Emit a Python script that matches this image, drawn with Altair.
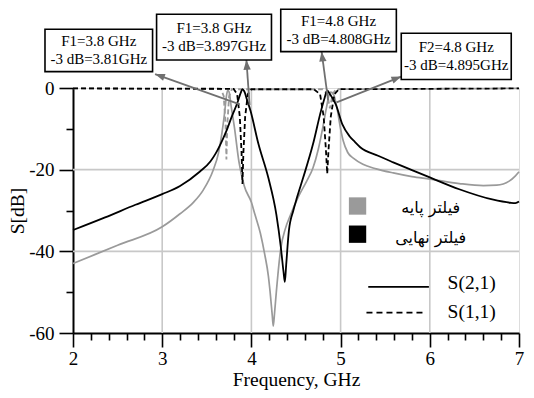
import math
import altair as alt
import pandas as pd

# ---------------- data ----------------
# Base filter, S(2,1)  (gray solid)
base_s21_f = [2.0, 2.5, 3.0, 3.2, 3.35, 3.46, 3.57, 3.63, 3.67, 3.70, 3.72, 3.735, 3.75, 3.77,
              3.81, 3.86, 3.92, 4.0, 4.04, 4.1, 4.15, 4.19, 4.21, 4.235, 4.245, 4.26, 4.28,
              4.33, 4.38, 4.44, 4.53, 4.62, 4.69, 4.75, 4.80, 4.84, 4.87, 4.89, 4.92, 4.96,
              5.0, 5.03, 5.08, 5.15, 5.25, 5.4, 5.59, 5.8, 6.0, 6.33, 6.6, 6.75, 6.89, 6.96, 7.0]
base_s21_db = [-43, -38.5, -34, -30.8, -28, -25, -20.2, -16, -11, -6, -2, -0.5, -1, -4,
               -9.7, -18, -24, -28, -31, -35.5, -40.8, -46, -50, -56, -58.3, -55, -49.8,
               -39.2, -34.5, -31, -26.5, -22.8, -19.6, -15, -9.7, -5, -1.8, -1, -1.5, -5,
               -10, -13, -15.8, -17.3, -18.7, -19.8, -20.8, -21.7, -22.3, -23.4, -23.9, -23.8, -22.8, -21.5, -20.5]

# Final filter, S(2,1)  (black solid)
final_s21_f = [2.0, 2.36, 2.7, 3.0, 3.2, 3.42, 3.54, 3.6, 3.68, 3.72, 3.78, 3.845, 3.88, 3.9,
               3.92, 3.95, 3.99, 4.08, 4.19, 4.28, 4.33, 4.36, 4.375, 4.39, 4.42, 4.47, 4.51,
               4.58, 4.69, 4.78, 4.82, 4.85, 4.88, 4.946, 5.02, 5.1, 5.16, 5.22, 5.42, 5.59,
               5.8, 6.0, 6.33, 6.7, 6.9, 6.96, 7.0]
final_s21_db = [-34.8, -31.7, -28.6, -26, -24, -20.5, -18, -16, -12.5, -10.5, -7, -3.5, -1.2, -0.3,
                -0.8, -2.8, -5.6, -13.8, -22, -31, -39, -45, -47.5, -43.3, -35, -30, -26.9,
                -22, -13.8, -5.6, -2.5, -0.6, -1.5, -4, -8.9, -11.8, -13.2, -14.5, -16.6, -18.2,
                -20.1, -21.9, -24.8, -27.3, -28.1, -28.2, -27.8]

# Base filter, S(1,1)  (gray dashed)
base_s11_f = [2.0, 3.66, 3.69, 3.71, 3.72, 3.73, 3.75, 3.78, 4.8, 4.85, 4.88, 4.91, 4.95, 7.0]
base_s11_db = [-0.1, -0.3, -2, -9, -17.5, -9, -2, -0.3, -0.3, -1.5, -5, -1.5, -0.3, -0.1]

# Final filter, S(1,1)  (black dashed)
final_s11_f = [2.0, 3.8, 3.84, 3.87, 3.89, 3.90, 3.91, 3.93, 3.96, 4.0, 4.7, 4.77, 4.81,
               4.835, 4.85, 4.865, 4.89, 4.93, 4.98, 7.0]
final_s11_db = [-0.1, -0.2, -1.5, -7, -16, -23.5, -16, -7, -1.5, -0.3, -0.3, -1.5, -7,
                -15, -21, -15, -7, -1.5, -0.3, -0.1]

# axis ticks
x_tick_values = [2.0, 2.2, 2.4, 2.6, 2.8, 3.0, 3.2, 3.4, 3.6, 3.8, 4.0, 4.2, 4.4, 4.6, 4.8,
                 5.0, 5.2, 5.4, 5.6, 5.8, 6.0, 6.2, 6.4, 6.6, 6.8, 7.0]
y_tick_values = [0, -10, -20, -30, -40, -50, -60]
grid_x = [3, 4, 5, 6]
grid_y = [-20, -40]

# annotation boxes
box_f1 = [1.686, 2.937, 4.329, 5.68]
box_f2 = [2.892, 4.225, 5.625, 6.913]
box_db1 = [4.0, 6.86, 8.9, 2.1]
box_db2 = [14.4, 18.05, 19.3, 13.4]
box_line1 = ["F1=3.8 GHz", "F1=3.8 GHz", "F1=4.8 GHz", "F2=4.8 GHz"]
box_line2 = ["-3 dB=3.81GHz", "-3 dB=3.897GHz", "-3 dB=4.808GHz", "-3 dB=4.895GHz"]
box_line1_db = [11.4, 14.7, 16.3, 10.0]
box_line2_db = [7.0, 10.3, 11.9, 5.6]

# arrows (tip at the box, tail on the curve)
arrow_tip_f = [2.92, 3.944, 4.787, 5.68]
arrow_tip_db = [3.4, 6.86, 8.9, 2.8]
arrow_end_f = [3.87, 3.98, 4.86, 4.955]
arrow_end_db = [-4.0, -4.2, -3.0, -3.5]

# legend
leg_sq_f = [5.19, 5.19]
leg_sq_db = [-28.9, -35.8]
leg_sq_color = ["#9a9a9a", "#000000"]
leg_lab_f = [6.01, 6.01]
leg_lab_db = [-29.4, -36.8]
leg_lab_text = ["فیلتر پایه", "فیلتر نهایی"]
leg_line_f1 = [5.31, 5.29]
leg_line_f2 = [5.99, 5.96]
leg_line_db = [-48.7, -55.0]
leg_s_f = [6.47, 6.47]
leg_s_db = [-47.8, -54.8]
leg_s_text = ["S(2,1)", "S(1,1)"]

# ---------------- chart ----------------
W, H = 446, 245
PX_PER_F = W / 5.0
PX_PER_DB = H / 60.0
SERIF = "Liberation Serif"
GRAY = "#9a9a9a"
ARROW = "#707070"

xs = alt.Scale(domain=[2, 7], nice=False, zero=False)
ys = alt.Scale(domain=[-60, 0], nice=False, zero=False)

x_axis = alt.Axis(
    values=x_tick_values, grid=False, labelExpr="datum.value % 1 == 0 ? '' + datum.value : ''",
    tickSize={"condition": {"test": "datum.value % 1 == 0", "value": 14}, "value": 7},
    tickColor="black", tickWidth=1.6, domainColor="black", domainWidth=2,
    labelFont=SERIF, labelFontSize=19, labelColor="black", labelPadding=2,
    labelFlush=False, labelOverlap=False,
    title="Frequency, GHz", titleFont=SERIF, titleFontSize=19.5, titleFontWeight="normal",
    titleColor="black", titleY=52.5, titleBaseline="alphabetic",
)
y_axis = alt.Axis(
    values=y_tick_values, grid=False, labelExpr="datum.value % 20 == 0 ? '' + datum.value : ''",
    tickSize={"condition": {"test": "datum.value % 20 == 0", "value": 14}, "value": 7},
    tickColor="black", tickWidth=1.6, domainColor="black", domainWidth=2,
    labelFont=SERIF, labelFontSize=19, labelColor="black", labelPadding=5,
    labelFlush=False, labelOverlap=False,
    title="S[dB]", titleFont=SERIF, titleFontSize=19.5, titleFontWeight="normal",
    titleColor="black", titleX=-56, titleY=H / 2, titleAngle=270, titleAlign="center",
    titleBaseline="middle",
)


def XE(field):
    return alt.X(field, type="quantitative", scale=xs, axis=x_axis)


def YE(field):
    return alt.Y(field, type="quantitative", scale=ys, axis=y_axis)


# grid
gx = pd.DataFrame({"f": grid_x, "lo": [-60] * len(grid_x), "hi": [0] * len(grid_x)})
gy = pd.DataFrame({"db": grid_y, "lo": [2] * len(grid_y), "hi": [7] * len(grid_y)})
grid_v = alt.Chart(gx).mark_rule(color="#c8c8c8", strokeWidth=1.6).encode(
    x=XE("f"), y=YE("lo"), y2="hi:Q",
)
grid_h = alt.Chart(gy).mark_rule(color="#c8c8c8", strokeWidth=1.6).encode(
    y=YE("db"), x=XE("lo"), x2="hi:Q",
)


def curve(fs, dbs, color, width, dash=None, interp="monotone"):
    df = pd.DataFrame({"f": fs, "db": dbs, "o": list(range(len(fs)))})
    kw = dict(color=color, strokeWidth=width, interpolate=interp)
    if dash is not None:
        kw["strokeDash"] = dash
    return alt.Chart(df).mark_line(**kw).encode(x=XE("f"), y=YE("db"), order="o:Q")


c_base21 = curve(base_s21_f, base_s21_db, GRAY, 1.7)
c_base11 = curve(base_s11_f, base_s11_db, GRAY, 1.8, dash=[5, 3], interp="linear")
c_final21 = curve(final_s21_f, final_s21_db, "black", 1.8)
c_final11 = curve(final_s11_f, final_s11_db, "black", 1.8, dash=[5, 3], interp="linear")

# arrows
angles = []
for tf, td, ef, ed in zip(arrow_tip_f, arrow_tip_db, arrow_end_f, arrow_end_db):
    dx = (tf - ef) * PX_PER_F
    dy = -(td - ed) * PX_PER_DB
    angles.append(math.degrees(math.atan2(dx, -dy)) % 360)
adf = pd.DataFrame({"tf": arrow_tip_f, "td": arrow_tip_db, "ef": arrow_end_f,
                    "ed": arrow_end_db, "ang": angles})
arrow_lines = alt.Chart(adf).mark_rule(color=ARROW, strokeWidth=1.8).encode(
    x=XE("ef"), y=YE("ed"), x2="tf:Q", y2="td:Q",
)
arrow_heads = alt.Chart(adf).mark_point(
    shape="M0,0L-0.6,1.6L0.6,1.6Z", filled=True, color=ARROW, opacity=1, size=150,
).encode(x=XE("tf"), y=YE("td"), angle=alt.Angle("ang:Q", scale=None))

# boxes
bdf = pd.DataFrame({"f1": box_f1, "f2": box_f2, "d1": box_db1, "d2": box_db2,
                    "fc": [(a + b) / 2 for a, b in zip(box_f1, box_f2)],
                    "t1": box_line1, "t2": box_line2, "y1": box_line1_db, "y2": box_line2_db})
boxes = alt.Chart(bdf).mark_rect(fill="white", stroke="black", strokeWidth=1.6).encode(
    x=XE("f1"), x2="f2:Q", y=YE("d1"), y2="d2:Q",
)
btext1 = alt.Chart(bdf).mark_text(font=SERIF, fontSize=15, color="black", baseline="middle").encode(
    x=XE("fc"), y=YE("y1"), text="t1:N",
)
btext2 = alt.Chart(bdf).mark_text(font=SERIF, fontSize=15, color="black", baseline="middle").encode(
    x=XE("fc"), y=YE("y2"), text="t2:N",
)

# legend
sqdf = pd.DataFrame({"f": leg_sq_f, "db": leg_sq_db, "c": leg_sq_color})
leg_sq = alt.Chart(sqdf).mark_square(size=300, opacity=1).encode(
    x=XE("f"), y=YE("db"), color=alt.Color("c:N", scale=None),
)
labdf = pd.DataFrame({"f": leg_lab_f, "db": leg_lab_db, "t": leg_lab_text})
leg_lab = alt.Chart(labdf).mark_text(font="DejaVu Sans", fontSize=16, color="black",
                                     baseline="middle").encode(
    x=XE("f"), y=YE("db"), text="t:N",
)
ldf = pd.DataFrame({"f1": leg_line_f1[:1], "f2": leg_line_f2[:1], "db": leg_line_db[:1]})
ldf2 = pd.DataFrame({"f1": leg_line_f1[1:], "f2": leg_line_f2[1:], "db": leg_line_db[1:]})
leg_solid = alt.Chart(ldf).mark_rule(color="black", strokeWidth=1.8).encode(
    x=XE("f1"), x2="f2:Q", y=YE("db"),
)
leg_dash = alt.Chart(ldf2).mark_rule(color="black", strokeWidth=1.8, strokeDash=[6, 4]).encode(
    x=XE("f1"), x2="f2:Q", y=YE("db"),
)
sdf = pd.DataFrame({"f": leg_s_f, "db": leg_s_db, "t": leg_s_text})
leg_s = alt.Chart(sdf).mark_text(font=SERIF, fontSize=19.5, color="black", baseline="middle").encode(
    x=XE("f"), y=YE("db"), text="t:N",
)

chart = alt.layer(
    grid_v, grid_h, c_base21, c_base11, c_final21, c_final11,
    arrow_lines, arrow_heads, boxes, btext1, btext2,
    leg_sq, leg_lab, leg_solid, leg_dash, leg_s,
).properties(
    width=W, height=H, autosize="none",
    padding={"left": 65, "top": 80, "right": 7, "bottom": 57},
).configure_view(
    stroke="#555555", strokeWidth=1
).configure_axis(
    labelFont=SERIF, titleFont=SERIF, labelFontSize=19, titleFontSize=19.5,
    labelColor="black", titleColor="black",
).configure(font=SERIF)

chart.save("out.html", embed_options={"renderer": "svg", "actions": False})
